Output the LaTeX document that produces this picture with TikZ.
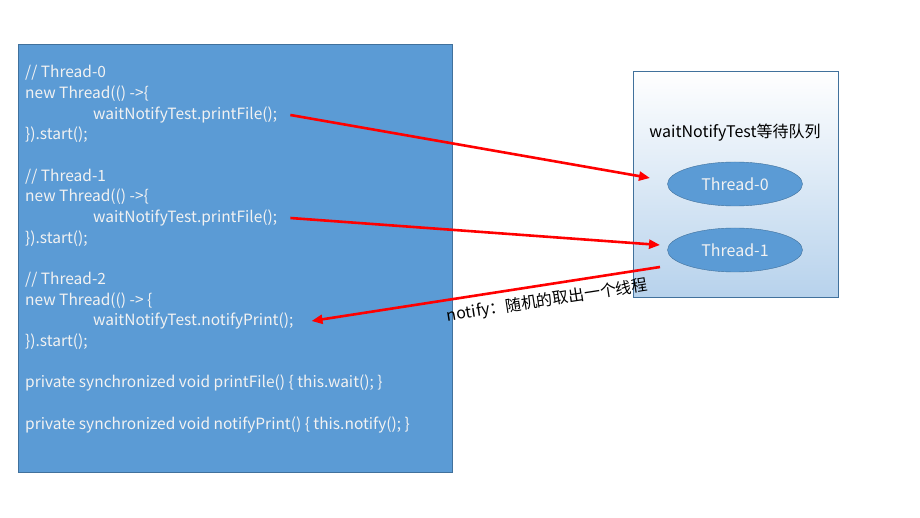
\documentclass[tikz,border=0pt]{standalone}
\usepackage{fontspec}
\setmainfont{Noto Sans CJK SC}
\usetikzlibrary{arrows.meta,shapes.geometric}
\definecolor{codebg}{RGB}{91,155,213}
\definecolor{codeedge}{RGB}{65,113,156}
\definecolor{codefg}{RGB}{242,242,242}
\definecolor{queuebot}{RGB}{183,210,236}
\newcommand{\codefont}{\fontsize{15.5}{18}\selectfont}
\newcommand{\labelfont}{\fontsize{16}{18}\selectfont}
\tikzstyle{code}=[anchor=west,
                  text=codefg,
                  inner sep=0pt,
                  font=\codefont]
\tikzstyle{thr}=[shape=ellipse,
                 draw=codeedge,
                 fill=codebg,
                 text=codefg,
                 minimum width=135pt,
                 minimum height=44pt,
                 inner sep=0pt,
                 font=\labelfont]
\tikzstyle{call}=[->,red,line width=2.6pt]
\begin{document}
\begin{tikzpicture}[x=1pt,y=-1pt,>={Triangle[length=11pt,width=9pt]}]
\useasboundingbox (0,0) rectangle (920,518);

% code panel
\node[draw=codeedge,fill=codebg,minimum width=434pt,minimum height=428pt,
      anchor=north west,inner sep=0pt] (panel) at (18,44) {};

% thread 0
\node[code] (c0) at (25,73)  {// Thread-0};
\node[code] (n0) at (25,94)  {new Thread(() ->\{};
\node[code] (p0) at (93,115) {waitNotifyTest.printFile();};
\node[code] (s0) at (25,135) {\}).start();};

% thread 1
\node[code] (c1) at (25,177) {// Thread-1};
\node[code] (n1) at (25,197) {new Thread(() ->\{};
\node[code] (p1) at (93,218) {waitNotifyTest.printFile();};
\node[code] (s1) at (25,239) {\}).start();};

% thread 2
\node[code] (c2) at (25,280) {// Thread-2};
\node[code] (n2) at (25,301) {new Thread(() -> \{};
\node[code] (p2) at (93,321) {waitNotifyTest.notifyPrint();};
\node[code] (s2) at (25,342) {\}).start();};

% methods
\node[code] (m1) at (25,383) {private synchronized void printFile() \{ this.wait(); \}};
\node[code] (m2) at (25,425) {private synchronized void notifyPrint() \{ this.notify(); \}};

% wait queue
\node[draw=codeedge,top color=white,bottom color=queuebot,minimum width=205pt,
      minimum height=226pt,anchor=north west,inner sep=0pt] (queue) at (633,71) {};
\node[font=\labelfont] (qt) at (735,133) {waitNotifyTest等待队列};
\node[thr] (t0) at (735,184) {Thread-0};
\node[thr] (t1) at (735,250) {Thread-1};
\coordinate (out) at (660,267);
\coordinate (in0) at (650,178);
\coordinate (in1) at (660,245);

% arrows
\draw[call] ([xshift=13pt]p0.east) -- (in0);
\draw[call] ([xshift=13pt]p1.east) -- (in1);
\draw[call] (out) -- ([xshift=18pt]p2.east)
  node[pos=0.33,below=3pt,sloped,text=black,font=\labelfont] {notify：随机的取出一个线程};
\end{tikzpicture}
\end{document}
